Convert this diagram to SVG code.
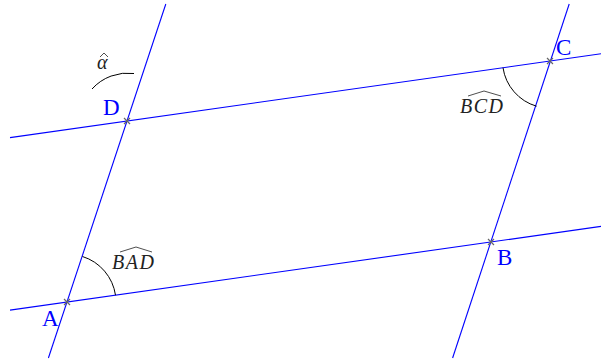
<svg xmlns="http://www.w3.org/2000/svg" width="601" height="363" viewBox="0 0 601 363">
<style>
.ln{stroke:#0000ff;stroke-width:1.1;fill:none}
.arc{stroke:#000;stroke-width:1;fill:none}
.pt{stroke:#666;stroke-width:1.2;fill:none}
.lbl{font-family:"Liberation Serif",serif;font-size:23px;fill:#0000ff}
.m{font-family:"Liberation Serif",serif;font-style:italic;font-size:20px;fill:#222;letter-spacing:1.5px}
.hat{stroke:#222;stroke-width:0.8;fill:none}
</style>
<defs>
<path id="x" class="pt" d="M-3,-3L3,3M-3,3L3,-3"/>
</defs>
<rect width="601" height="363" fill="#fff"/>
<g id="connectors">
<line class="ln" x1="10" y1="310.1" x2="601" y2="226.4"/>
<line class="ln" x1="10" y1="137.6" x2="601" y2="53.8"/>
<line class="ln" x1="48.4" y1="358" x2="165.8" y2="4"/>
<line class="ln" x1="452.6" y1="358" x2="569.2" y2="4"/>
</g>
<g id="angles">
<path class="arc" d="M82.5,256.5 A48,48 0 0 1 115.5,295.2"/>
<path class="arc" d="M503,67.7 A47.5,47.5 0 0 0 536.5,106.2"/>
<path class="arc" d="M92,89 A48,48 0 0 1 134,73.5"/>
</g>
<g id="A"><use href="#x" x="67" y="302"/><text class="lbl" x="42" y="326">A</text></g>
<g id="B"><use href="#x" x="491" y="242"/><text class="lbl" x="497" y="265">B</text></g>
<g id="C"><use href="#x" x="550" y="61"/><text class="lbl" x="556" y="55">C</text></g>
<g id="D"><use href="#x" x="127" y="121"/><text class="lbl" x="103" y="115">D</text></g>
<g id="label-BAD">
<text class="m" x="112" y="269">BAD</text>
<path class="hat" d="M120,252 L136,247 L152,252"/>
</g>
<g id="label-BCD">
<text class="m" x="460" y="113">BCD</text>
<path class="hat" d="M468,96 L484,91 L501,96"/>
</g>
<g id="label-alpha">
<text class="m" x="97" y="69">α</text>
<path class="hat" d="M100,57 L104,53 L108,57"/>
</g>
</svg>
